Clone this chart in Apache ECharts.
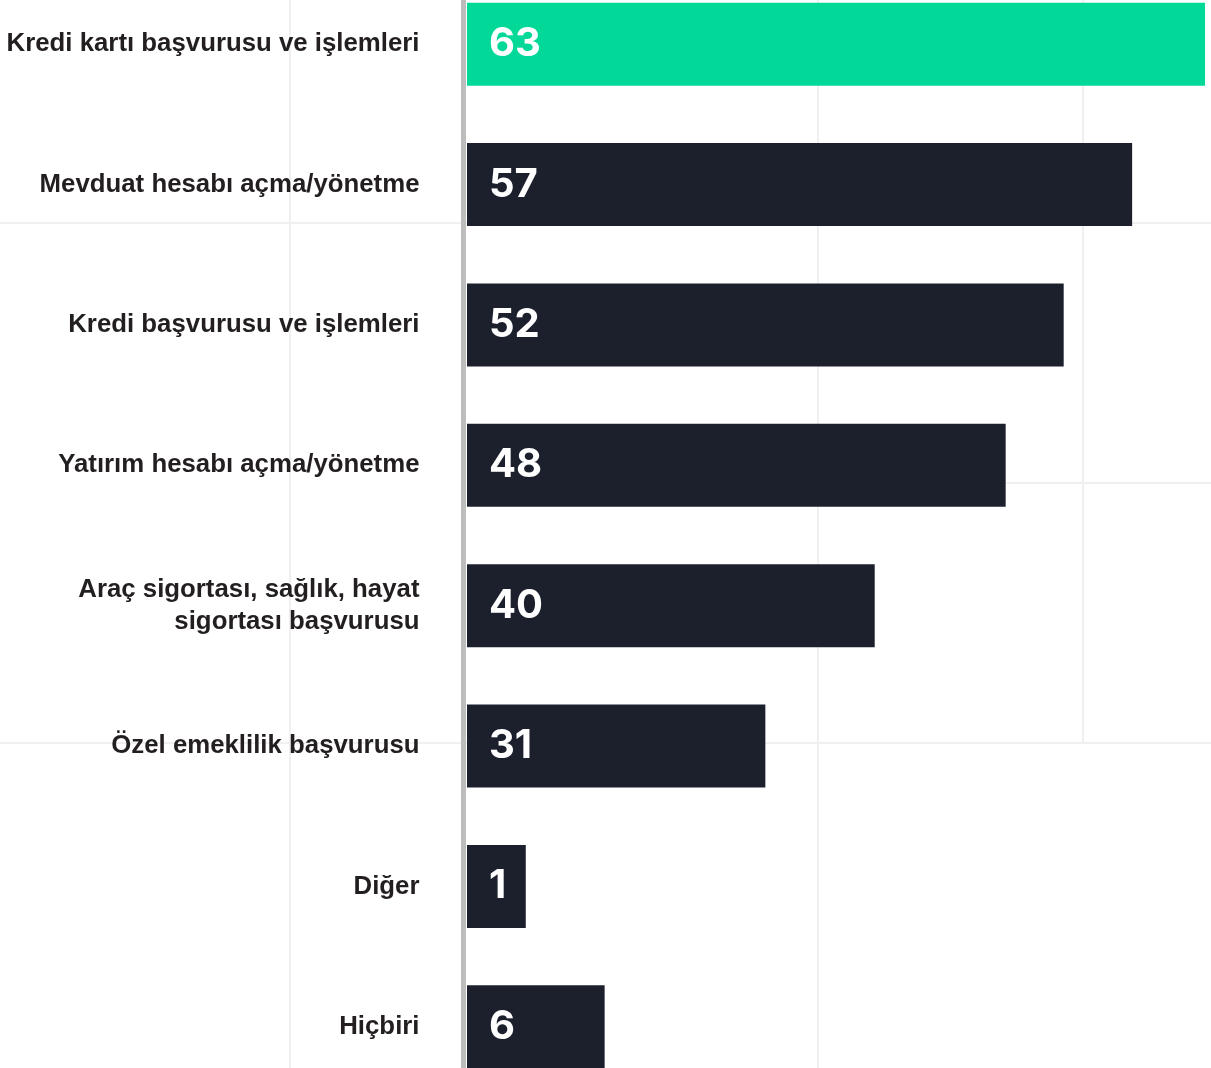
<!DOCTYPE html>
<html>
<head>
<meta charset="utf-8">
<style>
  html, body { margin: 0; padding: 0; background: #ffffff; }
  #chart { width: 1211px; height: 1068px; }
</style>
<script src="https://cdn.jsdelivr.net/npm/echarts@6/dist/echarts.min.js"></script>
</head>
<body>
<div id="chart"></div>
<script>
// Categories (top to bottom)
const categories = [
  "Kredi kartı başvurusu ve işlemleri",
  "Mevduat hesabı açma/yönetme",
  "Kredi başvurusu ve işlemleri",
  "Yatırım hesabı açma/yönetme",
  "Araç sigortası, sağlık, hayat\nsigortası başvurusu",
  "Özel emeklilik başvurusu",
  "Diğer",
  "Hiçbiri"
];
// Values printed on the bars
const valueLabels = [63, 57, 52, 48, 40, 31, 1, 6];
// Bar extents (percent of plot width)
const barLengths = [99.2, 89.4, 80.2, 72.4, 54.8, 40.1, 7.9, 18.5];

const GREEN = "#02D898";
const DARK = "#1B202C";
const FONT = "Liberation Sans";
const NUM_FONT = "Inter";

const chart = echarts.init(document.getElementById("chart"), null, { renderer: "canvas" });

const gridLineStyle = { stroke: "#F0F0F0", lineWidth: 2 };
function gl(x1, y1, x2, y2) {
  return { type: "line", silent: true, z: -10, shape: { x1, y1, x2, y2 }, style: gridLineStyle };
}

chart.setOption({
  animation: false,
  backgroundColor: "#ffffff",
  graphic: [
    gl(290, 0, 290, 1068),
    gl(818, 0, 818, 1068),
    gl(1083, 0, 1083, 743),
    gl(0, 223, 1211, 223),
    gl(818, 483, 1211, 483),
    gl(0, 743, 1211, 743)
  ],
  grid: {
    left: 467, right: 0, top: -26, height: 1123,
    containLabel: false,
    outerBoundsMode: "none"
  },
  xAxis: {
    type: "value", min: 0, max: 100,
    show: false,
    splitLine: { show: false }
  },
  yAxis: {
    type: "category",
    inverse: true,
    data: categories,
    offset: 3.5,
    axisLine: { show: true, onZero: false, lineStyle: { color: "#BDBDBD", width: 5 } },
    axisTick: { show: false },
    axisLabel: {
      margin: 44,
      fontFamily: FONT,
      fontWeight: "bold",
      fontSize: 25.8,
      lineHeight: 32,
      color: "#231F20",
      align: "right"
    }
  },
  series: [{
    type: "bar",
    barWidth: 83,
    z: 2,
    data: barLengths.map((v, i) => ({
      value: v,
      itemStyle: { color: i === 0 ? GREEN : DARK }
    })),
    label: {
      show: true,
      position: "insideLeft",
      distance: 22,
      formatter: p => String(valueLabels[p.dataIndex]),
      color: "#ffffff",
      fontFamily: NUM_FONT,
      fontWeight: "bold",
      fontSize: 40
    }
  }]
});
</script>
</body>
</html>
